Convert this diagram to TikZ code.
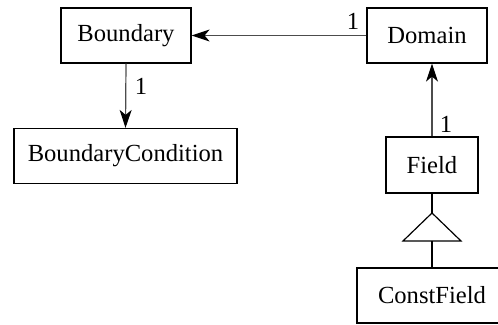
\documentclass[tikz,border=0pt]{standalone}
\usepackage{fontspec}
\setmainfont{LiberationSerif}[Extension=.ttf, UprightFont=*-Regular, BoldFont=*-Bold]
\usetikzlibrary{arrows.meta}

\begin{document}
\begin{tikzpicture}[
    x=0.5pt, y=-0.5pt,
    >={Stealth[length=9pt, width=6pt, inset=2.5pt, black]},
    every node/.style={font=\rmfamily\fontsize{12.3}{14}\selectfont},
    cls/.style={draw, line width=0.6pt, minimum height=27.5pt, inner sep=0pt},
    assoc/.style={->, draw=black!70, line width=0.6pt},
    mult/.style={inner sep=1pt},
  ]
  %% ---- Frame ----
  \useasboundingbox (0,0) rectangle (498,325);
  \clip (0,0) rectangle (498,325);
  %% ---- Classes ----
  \node[cls, minimum width=65pt]    (bnd)   at (126,35.5)  {Boundary};
  \node[cls, minimum width=111.5pt] (bcond) at (125.5,156) {BoundaryCondition};
  \node[cls, minimum width=60pt]    (dom)   at (427,35.5)  {Domain};
  \node[cls, minimum width=46pt, minimum height=28pt] (fld) at (432,165) {Field};
  \node[cls, minimum width=75pt]    (cfld)  at (432,295.5) {ConstField};
  %% ---- Inheritance triangle ----
  \coordinate (tip)  at (432,213);
  \coordinate (base) at (432,241);
  \draw[line width=0.6pt] (tip) -- ++(29,28) -- ++(-58,0) -- cycle;
  \draw[line width=0.6pt] (fld.south) -- (tip);
  \draw[line width=0.6pt] (base) -- (cfld.north);
  %% ---- Associations ----
  \draw[assoc] (dom.west) -- (bnd.east);
  \draw[assoc] (bnd.south) -- (bcond.north);
  \draw[assoc] (fld.north) -- (fld.north |- dom.south);
  %% ---- Multiplicities ----
  \node[mult] (m1) at (353,21)  {1};
  \node[mult] (m2) at (141,86)  {1};
  \node[mult] (m3) at (446,124) {1};
\end{tikzpicture}
\end{document}
